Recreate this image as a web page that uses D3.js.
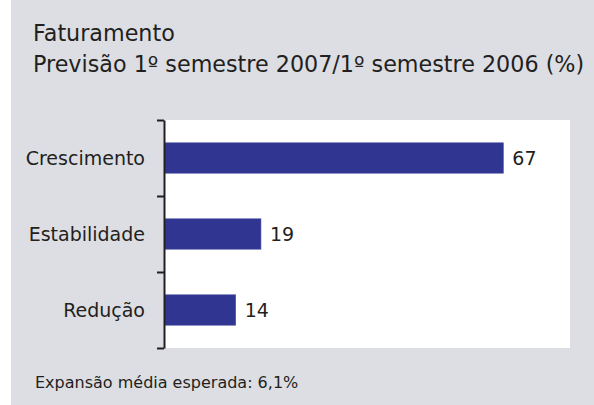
<!DOCTYPE html>
<html>
<head>
<meta charset="utf-8">
<title>Faturamento</title>
<style>
body { margin: 0; background: #ffffff; }
svg { display: block; font-family: "DejaVu Sans", sans-serif; }
</style>
</head>
<body>
<script src="https://d3js.org/d3.v7.min.js"></script>
<script>
'use strict';
const categories = ['Crescimento', 'Estabilidade', 'Redução'];
const values = [67, 19, 14];
const titleLines = ['Faturamento', 'Previsão 1º semestre 2007/1º semestre 2006 (%)'];
const note = 'Expansão média esperada: 6,1%';

const W = 594, H = 405;
const plot = {left: 165, right: 570, top: 120, bottom: 348};
const ink = '#231f20';

const svg = d3.select('body').append('svg')
	.attr('width', W)
	.attr('height', H);

// grey panel
svg.append('rect')
	.attr('x', 11).attr('y', 0)
	.attr('width', W - 11).attr('height', H)
	.attr('fill', '#dcdee3');

// white plot area
svg.append('rect')
	.attr('x', plot.left).attr('y', plot.top)
	.attr('width', plot.right - plot.left).attr('height', plot.bottom - plot.top)
	.attr('fill', '#ffffff');

const x = d3.scaleLinear()
	.domain([0, 80])
	.range([plot.left, plot.right - 1]);

const y = d3.scaleBand()
	.domain(categories)
	.range([plot.top, plot.bottom])
	.paddingInner(0.6)
	.paddingOuter(0.3);

// title
svg.append('g').selectAll('text')
	.data(titleLines)
	.enter().append('text')
	.attr('x', 33)
	.attr('y', (d, i) => 41 + i * 31)
	.attr('font-size', 22.25)
	.attr('fill', ink)
	.text(d => d);

// bars
svg.selectAll('rect.bar')
	.data(values)
	.enter().append('rect')
	.attr('class', 'bar')
	.attr('x', x(0))
	.attr('y', (d, i) => y(categories[i]))
	.attr('width', d => x(d) - x(0))
	.attr('height', y.bandwidth())
	.attr('fill', '#2f3591')
	.attr('stroke', '#4d53a3')
	.attr('stroke-width', 0.6);

// value labels
svg.selectAll('text.val')
	.data(values)
	.enter().append('text')
	.attr('class', 'val')
	.attr('x', d => x(d) + 9)
	.attr('y', (d, i) => y(categories[i]) + y.bandwidth() / 2)
	.attr('dy', '0.36em')
	.attr('font-size', 19)
	.attr('fill', ink)
	.text(d => d);

// bracket axis with ticks on band boundaries
const yEdge = d3.scaleLinear()
	.domain([0, categories.length])
	.range([plot.top, plot.bottom]);

const edge = svg.append('g')
	.attr('transform', 'translate(' + (plot.left - 1) + ',0)')
	.call(d3.axisLeft(yEdge).ticks(categories.length).tickSizeInner(7).tickSizeOuter(0).tickFormat(''));
edge.selectAll('path, line')
	.attr('stroke', ink)
	.attr('stroke-width', 2);

// category labels
const lbl = svg.append('g')
	.attr('transform', 'translate(' + (plot.left - 2) + ',0)')
	.call(d3.axisLeft(y).tickSize(0).tickPadding(18))
	.attr('font-family', null)
	.attr('font-size', 19);
lbl.select('.domain').remove();
lbl.selectAll('text').attr('fill', ink).attr('dy', '0.36em');

// note
svg.append('text')
	.attr('x', 35)
	.attr('y', 388)
	.attr('font-size', 16)
	.attr('fill', ink)
	.text(note);
</script>
</body>
</html>
